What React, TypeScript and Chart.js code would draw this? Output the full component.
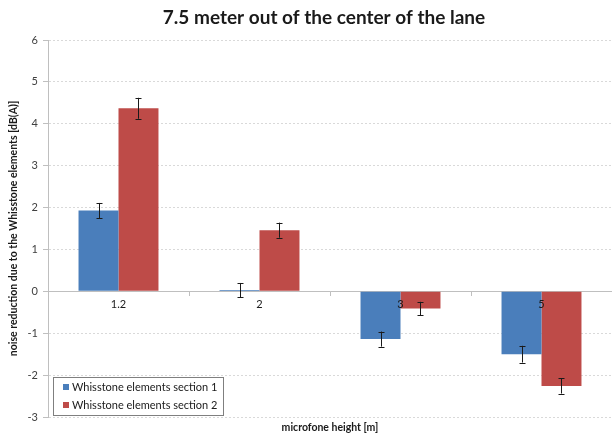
import React, { useEffect, useRef } from "react";
import { Chart, registerables } from "chart.js";

Chart.register(...registerables);

const categories = ["1.2", "2", "3", "5"];
const seriesNames = ["Whisstone elements section 1", "Whisstone elements section 2"];
const section1 = [1.93, 0.03, -1.14, -1.5];
const section1Err = [0.18, 0.17, 0.18, 0.2];
const section2 = [4.37, 1.46, -0.41, -2.26];
const section2Err = [0.25, 0.18, 0.16, 0.18];
const errors = [section1Err, section2Err];
const yMin = -3;
const yMax = 6;
const titleText = "7.5 meter out of the center of the lane";
const yTitle = "noise reduction due to the Whisstone elements [dB(A)]";
const xTitle = "microfone height [m]";

const FONT = "Lato, 'Open Sans', sans-serif";
const BLUE = "#4a7ebb";
const RED = "#be4b48";

const decorPlugin = {
  id: "decor",
  afterDatasetsDraw(chart: any) {
    const ctx = chart.ctx;
    const y = chart.scales.y;
    ctx.save();
    ctx.strokeStyle = "#1a1a1a";
    ctx.lineWidth = 1;
    chart.data.datasets.forEach((ds: any, di: number) => {
      const meta = chart.getDatasetMeta(di);
      meta.data.forEach((bar: any, i: number) => {
        const v = ds.data[i];
        const e = errors[di][i];
        const x = Math.round(bar.x) + 0.5;
        const y1 = y.getPixelForValue(v + e);
        const y2 = y.getPixelForValue(v - e);
        ctx.beginPath();
        ctx.moveTo(x, y1);
        ctx.lineTo(x, y2);
        ctx.moveTo(x - 3, Math.round(y1) + 0.5);
        ctx.lineTo(x + 3, Math.round(y1) + 0.5);
        ctx.moveTo(x - 3, Math.round(y2) + 0.5);
        ctx.lineTo(x + 3, Math.round(y2) + 0.5);
        ctx.stroke();
      });
    });
    ctx.restore();
  },
  afterDraw(chart: any) {
    const ctx = chart.ctx;
    const area = chart.chartArea;
    ctx.save();
    ctx.fillStyle = "#1a1a1a";
    ctx.font = `bold 19px ${FONT}`;
    ctx.textAlign = "center";
    ctx.textBaseline = "middle";
    ctx.fillText(titleText, 324, 18);
    ctx.font = `bold 10.5px ${FONT}`;
    ctx.fillText(xTitle, (area.left + area.right) / 2, 428);
    ctx.save();
    ctx.translate(14, (area.top + area.bottom) / 2);
    ctx.rotate(-Math.PI / 2);
    ctx.fillText(yTitle, 0, 0);
    ctx.restore();
    const lx = area.left + 5;
    const ly = 377;
    ctx.fillStyle = "#ffffff";
    ctx.fillRect(lx, ly, 170, 38);
    ctx.strokeStyle = "#7f7f7f";
    ctx.lineWidth = 1;
    ctx.strokeRect(lx + 0.5, ly + 0.5, 170, 38);
    ctx.font = `11px ${FONT}`;
    ctx.textAlign = "left";
    chart.data.datasets.forEach((ds: any, di: number) => {
      const cy = ly + 10 + di * 18;
      ctx.fillStyle = ds.backgroundColor;
      ctx.fillRect(lx + 10, cy - 3, 6, 6);
      ctx.fillStyle = "#1a1a1a";
      ctx.fillText(ds.label, lx + 19, cy + 0.5);
    });
    ctx.restore();
  },
};

export default function App() {
  const ref = useRef<HTMLCanvasElement | null>(null);
  useEffect(() => {
    if (!ref.current) return;
    const chart = new Chart(ref.current, {
      type: "bar",
      data: {
        labels: categories,
        datasets: [
          { label: seriesNames[0], data: section1, backgroundColor: BLUE, borderWidth: 0 },
          { label: seriesNames[1], data: section2, backgroundColor: RED, borderWidth: 0 },
        ],
      },
      options: {
        responsive: false,
        animation: false,
        layout: { padding: { top: 40, bottom: 20, left: 0, right: 0 } },
        datasets: { bar: { categoryPercentage: 0.567, barPercentage: 1 } },
        plugins: { legend: { display: false }, title: { display: false }, tooltip: { enabled: false } },
        scales: {
          x: {
            position: { y: 0 } as any,
            grid: { offset: true, drawOnChartArea: false, drawTicks: true, tickLength: 4, color: "#bfbfbf" },
            border: { color: "#bfbfbf", width: 1 },
            ticks: { font: { family: FONT, size: 11 }, color: "#1a1a1a", padding: 3, z: 1 } as any,
          },
          y: {
            min: yMin,
            max: yMax,
            afterFit: (s: any) => {
              s.width = 48;
            },
            ticks: { stepSize: 1, font: { family: FONT, size: 11 }, color: "#404040", padding: 5 },
            grid: { color: "#d9d9d9", tickLength: 5, tickColor: "#bfbfbf", tickBorderDash: [] as any },
            border: { color: "#bfbfbf", width: 1, dash: [2, 2] },
          },
        },
      },
      plugins: [decorPlugin],
    });
    return () => chart.destroy();
  }, []);
  return (
    <div style={{ position: "fixed", left: 0, top: 0, width: 612, height: 437, background: "#fff" }}>
      <canvas ref={ref} width={612} height={437} />
    </div>
  );
}
